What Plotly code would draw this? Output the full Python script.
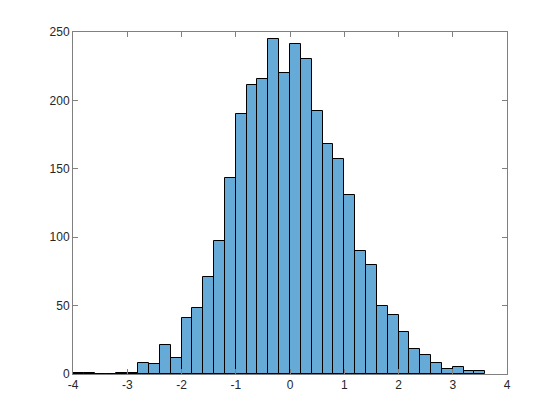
import numpy as np
import plotly.graph_objects as go

bin_start = -4.0
bin_width = 0.2
counts = [1, 1, 0, 0, 1, 1, 8, 7, 21, 12, 41, 48, 71, 97, 143, 190, 211, 216, 245, 220,
          241, 230, 192, 168, 157, 131, 90, 80, 50, 43, 31, 18, 14, 8, 4, 5, 2, 2]
x_ticks = [-4, -3, -2, -1, 0, 1, 2, 3, 4]
x_tick_labels = ["-4", "-3", "-2", "-1", "0", "1", "2", "3", "4"]
y_ticks = [0, 50, 100, 150, 200, 250]

centers = bin_start + bin_width * (np.arange(len(counts)) + 0.5)

fig = go.Figure(go.Bar(
    x=centers, y=counts, width=bin_width,
    marker=dict(color="#66AAD7", line=dict(color="black", width=1)),
))

axis_common = dict(
    showgrid=False, zeroline=False, showline=True, linecolor="#808080", linewidth=1,
    mirror="ticks", ticks="inside", ticklen=5, tickcolor="#808080",
    tickfont=dict(family="Liberation Sans, Arial, sans-serif", size=12, color="#262626"),
)
fig.update_xaxes(range=[-4, 4], tickvals=x_ticks, ticktext=x_tick_labels, **axis_common)
fig.update_yaxes(range=[0, 250], tickvals=y_ticks, **axis_common)
fig.update_layout(
    width=552, height=412,
    margin=dict(l=65, r=53, t=24, b=46),
    plot_bgcolor="white", paper_bgcolor="white",
    bargap=0, showlegend=False,
)
fig.write_html("out.html")
